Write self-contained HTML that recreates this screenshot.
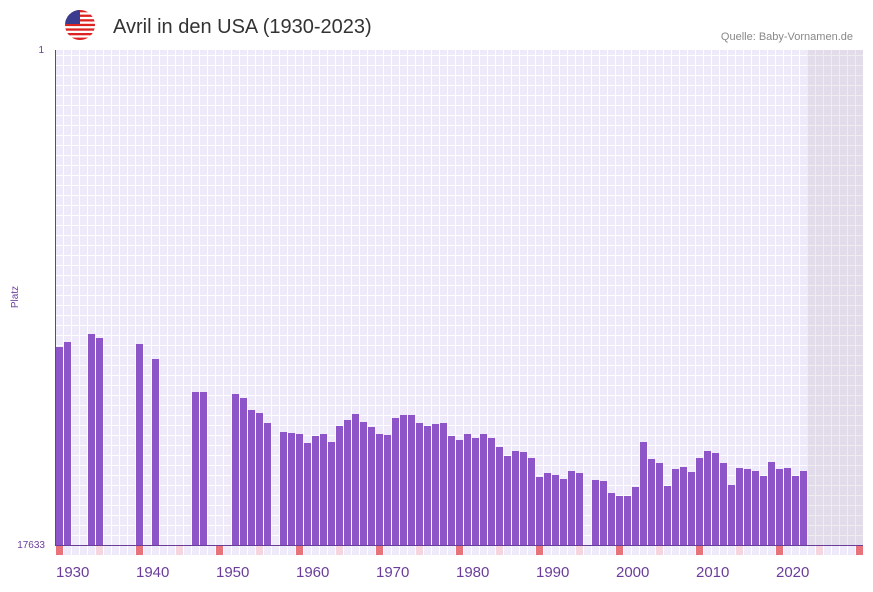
<!DOCTYPE html>
<html><head><meta charset="utf-8"><style>
body{margin:0;background:#fff;width:873px;height:587px;overflow:hidden;font-family:"Liberation Sans",sans-serif}
</style></head><body>
<svg width="873" height="587" xmlns="http://www.w3.org/2000/svg" font-family="Liberation Sans, sans-serif">
<defs>
<pattern id="g" x="55" y="5" width="8" height="10" patternUnits="userSpaceOnUse">
<rect width="8" height="10" fill="#efeaf9"/>
<rect x="0" y="0" width="1" height="10" fill="#fff"/>
<rect x="0" y="0" width="8" height="1" fill="#fff"/>
</pattern>
<clipPath id="fc"><circle cx="80" cy="25" r="15"/></clipPath>
</defs>
<g clip-path="url(#fc)">
<rect x="65" y="10" width="30" height="30" fill="#fff"/>
<g fill="#d22">
<rect x="65" y="10" width="30" height="2.3"/><rect x="65" y="14.6" width="30" height="2.3"/><rect x="65" y="19.2" width="30" height="2.3"/><rect x="65" y="23.8" width="30" height="2.3"/><rect x="65" y="28.4" width="30" height="2.3"/><rect x="65" y="33" width="30" height="2.3"/><rect x="65" y="37.6" width="30" height="2.4"/>
</g>
<rect x="65" y="10" width="15" height="14" fill="#3b3b8f"/>
</g>
<text x="113" y="33" font-size="20" fill="#333">Avril in den USA (1930-2023)</text>
<text x="853" y="40" font-size="11" fill="#888" text-anchor="end">Quelle: Baby-Vornamen.de</text>
<rect x="55" y="50" width="808" height="505" fill="url(#g)"/>
<rect x="807" y="50" width="56" height="495" fill="#a8a0b0" opacity="0.2"/>
<g fill="#8d55c8" id="bars"></g>
<line x1="55.5" y1="50" x2="55.5" y2="545" stroke="#6a3d9a" stroke-width="1"/>
<line x1="55" y1="545.5" x2="863" y2="545.5" stroke="#6a3d9a" stroke-width="1"/>
<g id="marks"></g>
<text x="44" y="53" font-size="10" fill="#6a3d9a" text-anchor="end">1</text>
<text x="45" y="548" font-size="10" fill="#6a3d9a" text-anchor="end">17633</text>
<text transform="translate(18,297) rotate(-90)" font-size="10" fill="#6a3d9a" text-anchor="middle">Platz</text>
<g font-size="15" fill="#6a3d9a" id="xl"></g>
</svg>
<script>
var tops={1930:347,1931:342,1934:334,1935:338,1940:344,1942:359,1947:392,1948:392,1952:394,1953:398,1954:410,1955:413,1956:423,1958:432,1959:433,1960:434,1961:443,1962:436,1963:434,1964:442,
1965:426,1966:420,1967:414,1968:422,1969:427,1970:434,1971:435,1972:418,1973:415,1974:415,1975:423,1976:426,1977:424,1978:423,1979:436,1980:440,1981:434,1982:438,1983:434,1984:438,1985:447,1986:456,1987:451,1988:452,1989:458,1990:477,1991:473,1992:475,1993:479,1994:471,1995:473,1997:480,1998:481,1999:493,2000:496,2001:496,2002:487,2003:442,2004:459,2005:463,2006:486,2007:469,2008:467,2009:472,2010:458,2011:451,2012:453,2013:463,2014:485,2015:468,2016:469,2017:471,2018:476,2019:462,2020:469,2021:468,2022:476,2023:471};
var ns="http://www.w3.org/2000/svg",b=document.getElementById('bars'),m=document.getElementById('marks'),xl=document.getElementById('xl');
function r(p,x,y,w,h,f){var e=document.createElementNS(ns,'rect');e.setAttribute('x',x);e.setAttribute('y',y);e.setAttribute('width',w);e.setAttribute('height',h);if(f)e.setAttribute('fill',f);p.appendChild(e);}
for(var y in tops){r(b,56+(y-1930)*8,tops[y],7,545-tops[y]);}
for(var y=1930;y<=2030;y+=5){r(m,56+(y-1930)*8,546,7,9,(y%10==0)?'#e8737a':'#f5d6df');}
for(var y=1930;y<=2020;y+=10){var t=document.createElementNS(ns,'text');t.setAttribute('x',56+(y-1930)*8);t.setAttribute('y',577);t.textContent=y;xl.appendChild(t);}
</script>
</body></html>
